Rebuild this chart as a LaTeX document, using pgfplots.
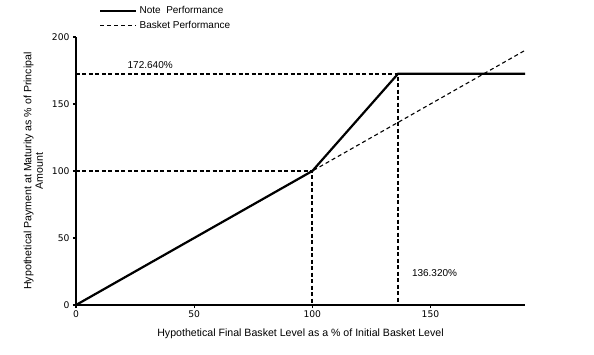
\documentclass[border=0pt]{standalone}
\usepackage{fontspec}
\setmainfont{Liberation Sans}
\newfontfamily\tickfont{DejaVu Sans}
\usepackage{pgfplots}
\pgfplotsset{compat=1.18}
\begin{document}
\begin{tikzpicture}
\useasboundingbox (-76bp,-50bp) rectangle (518bp,305bp);
\begin{axis}[
  at={(0,0)}, anchor=origin,
  scale only axis,
  width=449bp, height=268bp,
  xmin=0, xmax=190, ymin=0, ymax=200,
  axis lines=left,
  axis line style={line width=1.5bp, -},
  xtick={0,50,100,150},
  ytick={0,50,100,150,200},
  tick align=outside,
  tick style={line width=1.2bp, black},
  major tick length=3bp,
  /pgf/number format/assume math mode=true,
  ticklabel style={font=\tickfont\fontsize{9.2bp}{10bp}\selectfont},
  xticklabel style={yshift=1bp},
  xlabel={Hypothetical Final Basket Level as a \% of Initial Basket Level},
  ylabel={Hypothetical Payment at Maturity as \% of Principal\\Amount},
  xlabel style={at={(axis description cs:0.5,-0.108)}, anchor=center, font=\fontsize{10.6bp}{12bp}\selectfont},
  ylabel style={at={(axis description cs:-0.095,0.5)}, anchor=center, align=center, font=\fontsize{10.6bp}{11.5bp}\selectfont},
  legend style={draw=none, fill=none, at={(0.045,1.13)}, anchor=north west,
    font=\fontsize{10bp}{11bp}\selectfont, row sep=2bp,
    /tikz/every even column/.append style={column sep=2bp}},
  legend cell align=left,
  legend image code/.code={\draw[#1] (0bp,0bp) -- (36bp,0bp);},
  clip=false,
]
\addplot[black, line width=2.2bp] coordinates {(0,0) (100,100) (136.32,172.64) (190,172.64)};
\addlegendentry{Note\ \ Performance}
\addplot[black, line width=1.1bp, dash pattern=on 4bp off 3bp] coordinates {(0,0) (190,190)};
\addlegendentry{Basket Performance}
\addplot[forget plot, black, line width=2bp, dash pattern=on 4bp off 2.5bp] coordinates {(0,100) (100,100) (100,-1)};
\addplot[forget plot, black, line width=2bp, dash pattern=on 4bp off 2.5bp] coordinates {(0,172.64) (136.32,172.64) (136.32,-1)};
\node[font=\fontsize{10bp}{11bp}\selectfont] at (axis cs:31.4,179) {172.640\%};
\node[font=\fontsize{10bp}{11bp}\selectfont, anchor=west] at (axis cs:140.7,24) {136.320\%};
\end{axis}
\end{tikzpicture}
\end{document}
